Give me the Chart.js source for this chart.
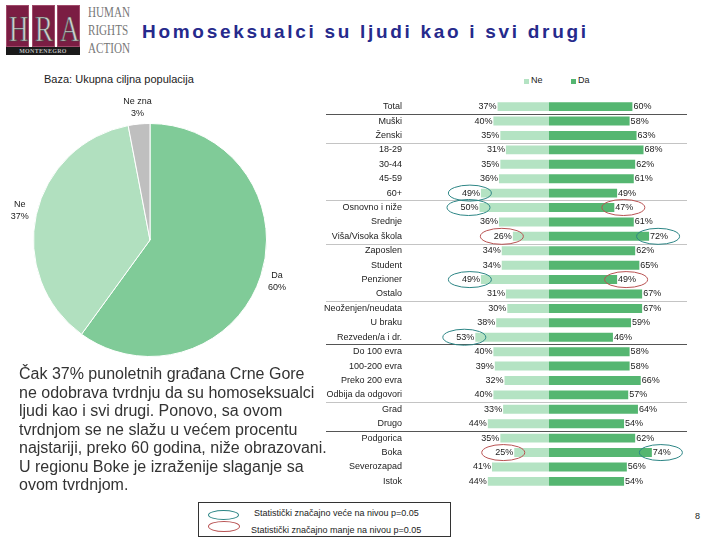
<!DOCTYPE html>
<html>
<head>
<meta charset="utf-8">
<script src="https://cdn.jsdelivr.net/npm/chart.js@4"></script>
<style>
  html, body { margin: 0; padding: 0; background: #fff; }
  body { width: 720px; height: 540px; position: relative; overflow: hidden; font-family: Arial, "Liberation Sans", sans-serif; color: #222; }
  .abs { position: absolute; }
  .logo-box { position: absolute; top: 5px; width: 23px; height: 42px; background: #7b1d43; box-shadow: inset 0 0 0 1px #a04a6a; }
  .logo-box span { position: absolute; left: 0; right: 0; top: 3px; text-align: center; font: 36px "Liberation Serif", "DejaVu Serif", serif; color: #cfcfcf; -webkit-text-stroke: 0.7px #444; transform: scaleX(0.75); }
  .logo-band { position: absolute; left: 6px; top: 47px; width: 74px; height: 8px; background: #1a1a1a; color: #bbb; font: bold 6px "Liberation Serif", serif; text-align: center; line-height: 8px; letter-spacing: 0.3px; }
  .logo-words { position: absolute; left: 88px; top: 3px; font: 15px "Liberation Serif", "DejaVu Serif", serif; color: #777; line-height: 18px; transform-origin: left top; transform: scaleX(0.74); }
  #title { left: 142px; top: 21px; font: bold 19px Arial, "Liberation Sans", sans-serif; letter-spacing: 2.7px; color: #262a8c; white-space: nowrap; }
  #baza { left: 44px; top: 73px; font-size: 11px; color: #222; white-space: nowrap; }
  #para { left: 19px; top: 365px; font-size: 16px; line-height: 18.5px; color: #333; white-space: nowrap; }
  .lg { font-size: 9px; color: #222; white-space: nowrap; }
  .sq { position: absolute; width: 5px; height: 5px; }
  #sigbox { left: 198px; top: 502px; width: 253px; height: 35px; border: 1px solid #333; box-sizing: border-box; }
  .ell { position: absolute; border-radius: 50%; border: 1px solid; box-sizing: border-box; }
</style>
</head>
<body>
<div class="logo-box" style="left:6px"><span>H</span></div>
<div class="logo-box" style="left:32px"><span>R</span></div>
<div class="logo-box" style="left:57px"><span>A</span></div>
<div class="logo-band">MONTENEGRO</div>
<div class="logo-words">HUMAN<br>RIGHTS<br>ACTION</div>
<div id="title" class="abs">Homoseksualci su ljudi kao i svi drugi</div>
<div id="baza" class="abs">Baza: Ukupna ciljna populacija</div>

<div class="abs" style="left:0;top:90px;width:300px;height:300px"><canvas id="pie"></canvas></div>
<div class="abs" style="left:316px;top:86px;width:390px;height:416px"><canvas id="bars"></canvas></div>

<div class="sq" id="sqNe" style="left:524px;top:79px"></div>
<div class="abs lg" style="left:531px;top:75px">Ne</div>
<div class="sq" id="sqDa" style="left:571px;top:79px"></div>
<div class="abs lg" style="left:578px;top:75px">Da</div>

<div id="para" class="abs">Čak 37% punoletnih građana Crne Gore<br>ne odobrava tvrdnju da su homoseksualci<br>ljudi kao i svi drugi. Ponovo, sa ovom<br>tvrdnjom se ne slažu u većem procentu<br>najstariji, preko 60 godina, niže obrazovani.<br>U regionu Boke je izraženije slaganje sa<br>ovom tvrdnjom.</div>

<div id="sigbox" class="abs"></div>
<div class="ell" id="ellHi" style="left:208px;top:510px;width:31px;height:10px"></div>
<div class="abs lg" style="left:254px;top:508px">Statistički značajno veće na nivou p=0.05</div>
<div class="ell" id="ellLo" style="left:208px;top:521px;width:32px;height:11px"></div>
<div class="abs lg" style="left:251px;top:525px">Statistički značajno manje na nivou p=0.05</div>
<div class="abs lg" style="left:695px;top:511px">8</div>

<script>
// pie: ukupna populacija
const pieLabels = ['Da', 'Ne', 'Ne zna'];
const pieValues = [60, 37, 3];

// bar rows
const categories = ['Total', 'Muški', 'Ženski', '18-29', '30-44', '45-59', '60+',
  'Osnovno i niže', 'Srednje', 'Viša/Visoka škola', 'Zaposlen', 'Student', 'Penzioner', 'Ostalo',
  'Neoženjen/neudata', 'U braku', 'Rezveden/a i dr.', 'Do 100 evra', '100-200 evra', 'Preko 200 evra',
  'Odbija da odgovori', 'Grad', 'Drugo', 'Podgorica', 'Boka', 'Severozapad', 'Istok'];
const neValues = [37, 40, 35, 31, 35, 36, 49, 50, 36, 26, 34, 34, 49, 31, 30, 38, 53, 40, 39, 32, 40, 33, 44, 35, 25, 41, 44];
const daValues = [60, 58, 63, 68, 62, 61, 49, 47, 61, 72, 62, 65, 49, 67, 67, 59, 46, 58, 58, 66, 57, 64, 54, 62, 74, 56, 54];

// separators after these rows (strong = dark line)
const groupBreaks = [0, 2, 6, 9, 13, 16, 20, 22];
const strongBreaks = [0, 16, 22];

// significance marks: [row, series, higher/lower]
const significant = [
  [6, 'ne', 'hi'], [7, 'ne', 'hi'], [7, 'da', 'lo'], [9, 'ne', 'lo'], [9, 'da', 'hi'],
  [12, 'ne', 'hi'], [12, 'da', 'lo'], [16, 'ne', 'hi'], [24, 'ne', 'lo'], [24, 'da', 'hi'],
];

const COLORS = {
  da: '#80cb98',
  ne: '#b1e0bf',
  neZna: '#bfbfbf',
  barNe: '#b4e3c3',
  barDa: '#55b671',
  hi: '#2c8585',
  lo: '#b85252',
};

Chart.defaults.font.family = 'Arial, "Liberation Sans", sans-serif';
Chart.defaults.color = '#222';
Chart.defaults.animation = false;

document.getElementById('sqNe').style.background = COLORS.barNe;
document.getElementById('sqDa').style.background = COLORS.barDa;
document.getElementById('ellHi').style.borderColor = COLORS.hi;
document.getElementById('ellLo').style.borderColor = COLORS.lo;

// labels outside the pie slices
const pieLabelPlugin = {
  id: 'pieLabels',
  afterDatasetsDraw(chart) {
    const { ctx } = chart;
    const meta = chart.getDatasetMeta(0);
    ctx.save();
    ctx.font = '9px Arial, "Liberation Sans", sans-serif';
    ctx.fillStyle = '#222';
    ctx.textAlign = 'center';
    ctx.textBaseline = 'middle';
    meta.data.forEach((arc, i) => {
      const { x, y, startAngle, endAngle, outerRadius } = arc.getProps(['x', 'y', 'startAngle', 'endAngle', 'outerRadius'], true);
      const mid = (startAngle + endAngle) / 2;
      const d = outerRadius + 17;
      const lx = x + Math.cos(mid) * d;
      const ly = y + Math.sin(mid) * d;
      ctx.fillText(pieLabels[i], lx, ly - 6);
      ctx.fillText(pieValues[i] + '%', lx, ly + 6);
    });
    ctx.restore();
  },
};

new Chart(document.getElementById('pie'), {
  type: 'pie',
  data: {
    labels: pieLabels,
    datasets: [{
      data: pieValues,
      backgroundColor: [COLORS.da, COLORS.ne, COLORS.neZna],
      borderColor: '#fff',
      borderWidth: 1,
    }],
  },
  options: {
    responsive: true,
    maintainAspectRatio: false,
    layout: { padding: 33 },
    plugins: { legend: { display: false }, tooltip: { enabled: false } },
  },
  plugins: [pieLabelPlugin],
});

// value labels, group separators and significance ellipses
const barExtras = {
  id: 'barExtras',
  afterDatasetsDraw(chart) {
    const { ctx, scales: { x, y } } = chart;
    ctx.save();

    // separators
    groupBreaks.forEach(i => {
      const yy = Math.round((y.getPixelForValue(i) + y.getPixelForValue(i + 1)) / 2) + 0.5;
      ctx.beginPath();
      ctx.moveTo(10, yy);
      ctx.lineTo(x.getPixelForValue(100) - 1, yy);
      ctx.strokeStyle = strongBreaks.includes(i) ? '#555' : '#c4c4c4';
      ctx.lineWidth = 1;
      ctx.stroke();
    });

    ctx.font = '9px Arial, "Liberation Sans", sans-serif';
    ctx.fillStyle = '#222';
    ctx.textBaseline = 'middle';
    const centers = { ne: [], da: [] };
    categories.forEach((_, i) => {
      const yy = y.getPixelForValue(i);
      const neTxt = neValues[i] + '%';
      const daTxt = daValues[i] + '%';
      const neEnd = x.getPixelForValue(-neValues[i]) - 1;
      const daEnd = x.getPixelForValue(daValues[i]) + 1;
      ctx.textAlign = 'right';
      ctx.fillText(neTxt, neEnd, yy);
      ctx.textAlign = 'left';
      ctx.fillText(daTxt, daEnd, yy);
      centers.ne[i] = [neEnd - ctx.measureText(neTxt).width / 2, yy];
      centers.da[i] = [daEnd + ctx.measureText(daTxt).width / 2, yy];
    });

    significant.forEach(([row, series, kind]) => {
      const [cx, cy] = centers[series][row];
      ctx.beginPath();
      ctx.ellipse(cx - 1, cy, 21.5, 8, 0, 0, Math.PI * 2);
      ctx.strokeStyle = COLORS[kind];
      ctx.lineWidth = 1;
      ctx.stroke();
    });
    ctx.restore();
  },
};

new Chart(document.getElementById('bars'), {
  type: 'bar',
  data: {
    labels: categories,
    datasets: [
      { label: 'Ne', data: neValues.map(v => -v), backgroundColor: COLORS.barNe },
      { label: 'Da', data: daValues, backgroundColor: COLORS.barDa },
    ],
  },
  options: {
    indexAxis: 'y',
    responsive: true,
    maintainAspectRatio: false,
    layout: { padding: { left: 0, right: 18, top: 0, bottom: 0 } },
    datasets: { bar: { categoryPercentage: 1, barPercentage: 0.62 } },
    scales: {
      x: { display: false, stacked: true, min: -100, max: 100 },
      y: {
        stacked: true,
        grid: { display: false, drawTicks: false },
        border: { display: false },
        ticks: { padding: 8, autoSkip: false, font: { size: 9 }, color: '#222' },
        afterFit(scale) { scale.width = 94; },
      },
    },
    plugins: { legend: { display: false }, tooltip: { enabled: false } },
  },
  plugins: [barExtras],
});
</script>
</body>
</html>
